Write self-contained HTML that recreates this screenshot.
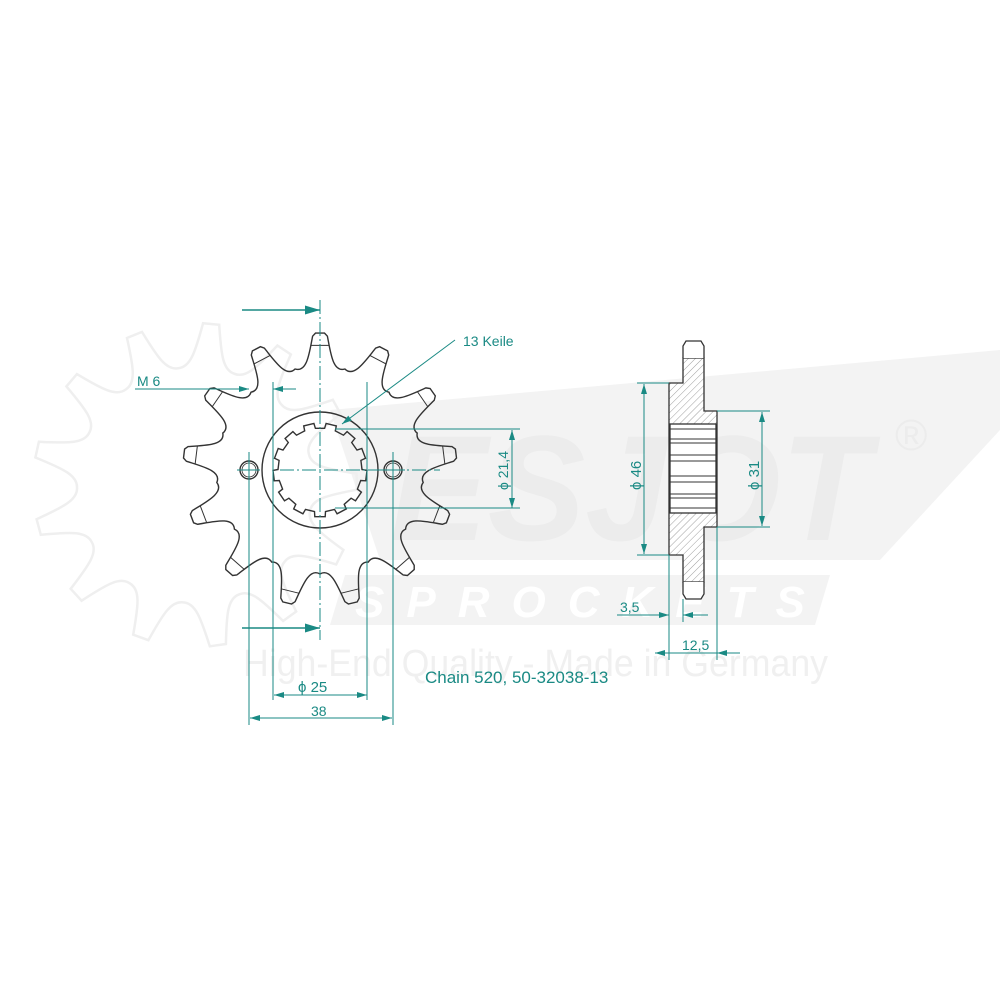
<!DOCTYPE html>
<html><head><meta charset="utf-8"><style>
html,body{margin:0;padding:0;background:#fff;}
svg{display:block;}
text{font-family:"Liberation Sans",sans-serif;}
</style></head><body>
<svg id="s" width="1000" height="1000" viewBox="0 0 1000 1000" xmlns="http://www.w3.org/2000/svg">
<defs>
<pattern id="h" width="5" height="5" patternUnits="userSpaceOnUse" patternTransform="rotate(45)">
<rect width="5" height="5" fill="#fff"/><line x1="0" y1="0" x2="0" y2="5" stroke="#888" stroke-width="0.8"/>
</pattern>
<marker id="a" viewBox="0 0 10 6" refX="10" refY="3" markerWidth="12" markerHeight="6" orient="auto" markerUnits="userSpaceOnUse"><path d="M0,0 L10,3 L0,6 z" fill="#1a8a84"/></marker>
<marker id="b" viewBox="0 0 10 6" refX="0" refY="3" markerWidth="12" markerHeight="6" orient="auto" markerUnits="userSpaceOnUse"><path d="M10,0 L0,3 L10,6 z" fill="#1a8a84"/></marker>
<marker id="big" viewBox="0 0 10 6" refX="10" refY="3" markerWidth="24" markerHeight="9" orient="auto" markerUnits="userSpaceOnUse"><path d="M0,0 L10,3 L0,6 z" fill="#1a8a84"/></marker>
</defs>
<!-- watermark -->
<g fill="#f3f3f3">
<polygon points="330,410 1000,350 1000,430 880,560 380,560"/>
<polygon points="345,575 830,575 815,625 330,625"/>
</g>
<g id="wm" fill="none" stroke="#efefef" stroke-width="2.5"></g>
<text x="390" y="540" font-size="150" font-weight="bold" font-style="italic" fill="#ececec" textLength="480" lengthAdjust="spacingAndGlyphs">ESJOT</text>
<text x="895" y="450" font-size="44" fill="#ececec">®</text>
<text x="355" y="617" font-size="44" font-weight="bold" font-style="italic" fill="#ffffff" letter-spacing="22">SPROCKETS</text>
<text x="243" y="676" font-size="38" fill="#f0f0f0" textLength="585" lengthAdjust="spacingAndGlyphs">High-End Quality - Made in Germany</text>

<g id="front" fill="none" stroke="#333" stroke-width="1.4"></g>

<g stroke="#1a8a84" stroke-width="1" fill="none">
<line x1="320" y1="300" x2="320" y2="640" stroke-dasharray="14,3,2,3"/>
<line x1="280" y1="470" x2="440" y2="470" stroke-dasharray="14,3,2,3"/>
<line x1="249" y1="452" x2="249" y2="725"/>
<line x1="393" y1="452" x2="393" y2="725"/>
<line x1="273" y1="382" x2="273" y2="700"/>
<line x1="367" y1="382" x2="367" y2="700"/>
<line x1="237" y1="470" x2="260" y2="470"/>
<line x1="382" y1="470" x2="405" y2="470"/>
<line x1="242" y1="310" x2="320" y2="310" stroke-width="1.5" marker-end="url(#big)"/>
<line x1="242" y1="628" x2="320" y2="628" stroke-width="1.5" marker-end="url(#big)"/>
<line x1="135" y1="389" x2="249" y2="389" marker-end="url(#a)"/>
<line x1="296" y1="389" x2="273" y2="389" marker-end="url(#a)"/>
<line x1="274" y1="695" x2="367" y2="695" marker-start="url(#b)" marker-end="url(#a)"/>
<line x1="250" y1="718" x2="392" y2="718" marker-start="url(#b)" marker-end="url(#a)"/>
<line x1="335" y1="429" x2="520" y2="429"/>
<line x1="335" y1="508" x2="520" y2="508"/>
<line x1="512" y1="430" x2="512" y2="508" marker-start="url(#b)" marker-end="url(#a)"/>
<line x1="455" y1="340" x2="342" y2="424" marker-end="url(#a)"/>
</g>
<g fill="#1a8a84">
<text x="137" y="386" font-size="14">M 6</text>
<text x="463" y="346" font-size="14">13 Keile</text>
<text x="298" y="692" font-size="15">ϕ 25</text>
<text x="311" y="716" font-size="14">38</text>
<text transform="translate(508,490) rotate(-90)" font-size="14">ϕ 21,4</text>
<text x="425" y="683" font-size="17">Chain 520, 50-32038-13</text>
<text transform="translate(641,490) rotate(-90)" font-size="15">ϕ 46</text>
<text transform="translate(759,490) rotate(-90)" font-size="15">ϕ 31</text>
<text x="620" y="612" font-size="14">3,5</text>
<text x="682" y="650" font-size="14">12,5</text>
</g>

<g stroke="#333" stroke-width="1.3">
<path d="M683,358 L683,383 L669,383 L669,555 L683,555 L683,582 L704,582 L704,527 L717,527 L717,411 L704,411 L704,358 Z" fill="url(#h)"/>
<path d="M683,358 L683,346 L686,341 L701,341 L704,346 L704,358" fill="#fff"/>
<path d="M683,582 L683,594 L686,599 L701,599 L704,594 L704,582" fill="#fff"/>
<rect x="670" y="424" width="46" height="89" fill="#fff"/>
<g fill="none" stroke-width="1">
<line x1="670" y1="429" x2="716" y2="429"/><line x1="670" y1="439" x2="716" y2="439"/>
<line x1="670" y1="443" x2="716" y2="443"/><line x1="670" y1="455" x2="716" y2="455"/>
<line x1="670" y1="461" x2="716" y2="461"/><line x1="670" y1="476" x2="716" y2="476"/>
<line x1="670" y1="482" x2="716" y2="482"/><line x1="670" y1="494" x2="716" y2="494"/>
<line x1="670" y1="498" x2="716" y2="498"/><line x1="670" y1="508" x2="716" y2="508"/>
</g>
</g>
<g stroke="#1a8a84" stroke-width="1" fill="none">
<line x1="637" y1="383" x2="669" y2="383"/>
<line x1="637" y1="555" x2="669" y2="555"/>
<line x1="644" y1="384" x2="644" y2="554" marker-start="url(#b)" marker-end="url(#a)"/>
<line x1="717" y1="411" x2="770" y2="411"/>
<line x1="717" y1="527" x2="770" y2="527"/>
<line x1="762" y1="412" x2="762" y2="526" marker-start="url(#b)" marker-end="url(#a)"/>
<line x1="669" y1="555" x2="669" y2="660"/>
<line x1="683" y1="599" x2="683" y2="622"/>
<line x1="717" y1="527" x2="717" y2="660"/>
<line x1="617" y1="615" x2="669" y2="615" marker-end="url(#a)"/>
<line x1="708" y1="615" x2="683" y2="615" marker-end="url(#a)"/>
<line x1="655" y1="653" x2="669" y2="653" marker-start="url(#b)"/>
<line x1="669" y1="653" x2="717" y2="653"/>
<line x1="717" y1="653" x2="740" y2="653" marker-start="url(#b)"/>
</g>
</svg>
<script>
(function(){
var cx=320,cy=470,N=13,rt=137,rr=104,P=2*Math.PI/N;
function pt(r,a){return (cx+r*Math.cos(a)).toFixed(1)+","+(cy+r*Math.sin(a)).toFixed(1);}
var d="",inner="";
for(var i=0;i<N;i++){
 var a=-Math.PI/2+i*P, h=0.045;
 var s=(i==0?"M":"L")+pt(rt-3,a-h-0.01)+" L"+pt(rt,a-h+0.012)+" L"+pt(rt,a+h-0.012)+" L"+pt(rt-3,a+h+0.01);
 s+=" C"+pt(118,a+0.09)+" "+pt(rr-6,a+0.13)+" "+pt(rr,a+P/2);
 s+=" C"+pt(rr-6,a+P-0.13)+" "+pt(118,a+P-0.09)+" "+pt(rt-3,a+P-h-0.01);
 d+=s;
 inner+="M"+pt(rt-12,a-h-0.03)+" L"+pt(rt-12,a+h+0.03)+" ";
}
d+="Z";
var sp="";
for(var i=0;i<N;i++){
 var a=-Math.PI/2+i*P+P/2, w=0.11;
 sp+=(i==0?"M":"L")+pt(42,a-P/2+w)+" L"+pt(47,a-P/2+w+0.02)+" L"+pt(47,a+P/2-w-0.02)+" L"+pt(42,a+P/2-w)+" ";
}
sp+="Z";
var g=document.getElementById("front");
g.innerHTML='<path d="'+d+'"/><path d="'+inner+'" stroke-width="1"/>'+
'<circle cx="320" cy="470" r="58"/><path d="'+sp+'"/>'+
'<circle cx="249" cy="470" r="9"/><circle cx="249" cy="470" r="7" stroke-width="0.8"/>'+
'<circle cx="393" cy="470" r="9"/><circle cx="393" cy="470" r="7" stroke-width="0.8"/>';
var cx2=195,cy2=485,d2="";
for(var i=0;i<13;i++){var a=-Math.PI/2+0.1+i*P;
 var p=function(r,b){return (cx2+r*Math.cos(b)).toFixed(1)+","+(cy2+r*Math.sin(b)).toFixed(1);};
 d2+=(i==0?"M":"L")+p(162,a-0.05)+" L"+p(162,a+0.05)+" C"+p(132,a+0.1)+" "+p(118,a+0.14)+" "+p(118,a+P/2)+" C"+p(118,a+P-0.14)+" "+p(132,a+P-0.1)+" "+p(162,a+P-0.05);}
document.getElementById("wm").innerHTML='<path d="'+d2+'Z"/>';
})();
</script>
</body></html>
